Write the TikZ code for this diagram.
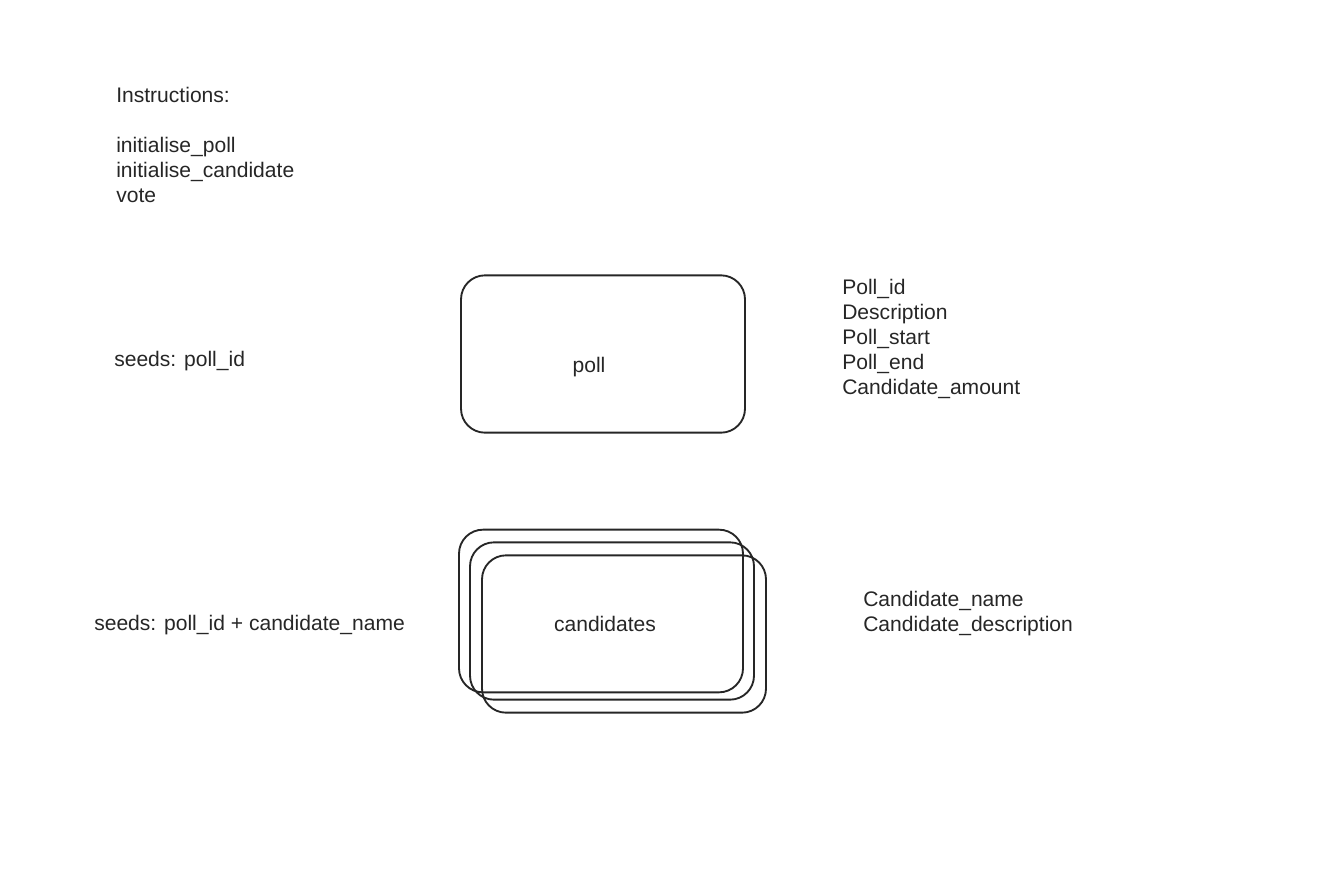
\documentclass[tikz,border=0pt]{standalone}
\usepackage{fontspec}
\setmainfont{Liberation Sans}
\usepackage{tikz}
\usetikzlibrary{positioning}

\begin{document}
\begin{tikzpicture}[
    x=0.75pt, y=-0.75pt,
    %% ── Styles ────────────────────────────────────────────────
    sketchbox/.style={
        rectangle, rounded corners=18pt,
        minimum width=213pt, minimum height=118pt,
        draw=black!85, line width=1.4pt
    },
    note/.style={
        align=left, anchor=base west, inner sep=0pt,
        text=black!85, font=\fontsize{15.8}{18.75}\selectfont
    },
    label/.style={
        inner sep=0pt, text=black!85,
        font=\fontsize{15.8}{18.75}\selectfont
    }
]
\useasboundingbox (0,0) rectangle (1343,871);

%% ── Boxes ──────────────────────────────────────────────────────
\node (poll)  [sketchbox]                          at (603,354) {};
\node (cand1) [sketchbox, minimum height=122pt]    at (601,611) {};
\node (cand2) [sketchbox]                          at (612,621) {};
\node (cand3) [sketchbox]                          at (624,634) {};
\node (polllbl) [label]                            at (589,367) {poll};
\node (candlbl) [label]                            at (605,624) {candidates};

%% ── Notes (anchored at the baseline of the last line) ─────────
\node (instr)  [note] at (116,202) {Instructions:\\[18.75pt]initialise\_poll\\initialise\_candidate\\vote};
\node (seed1)  [note] at (114,366) {seeds: poll\_id};
\node (seed2)  [note] at (94,630)  {seeds: poll\_id + candidate\_name};
\node (pollat) [note] at (842,394) {Poll\_id\\Description\\Poll\_start\\Poll\_end\\Candidate\_amount};
\node (candat) [note] at (863,631) {Candidate\_name\\Candidate\_description};

\end{tikzpicture}
\end{document}
